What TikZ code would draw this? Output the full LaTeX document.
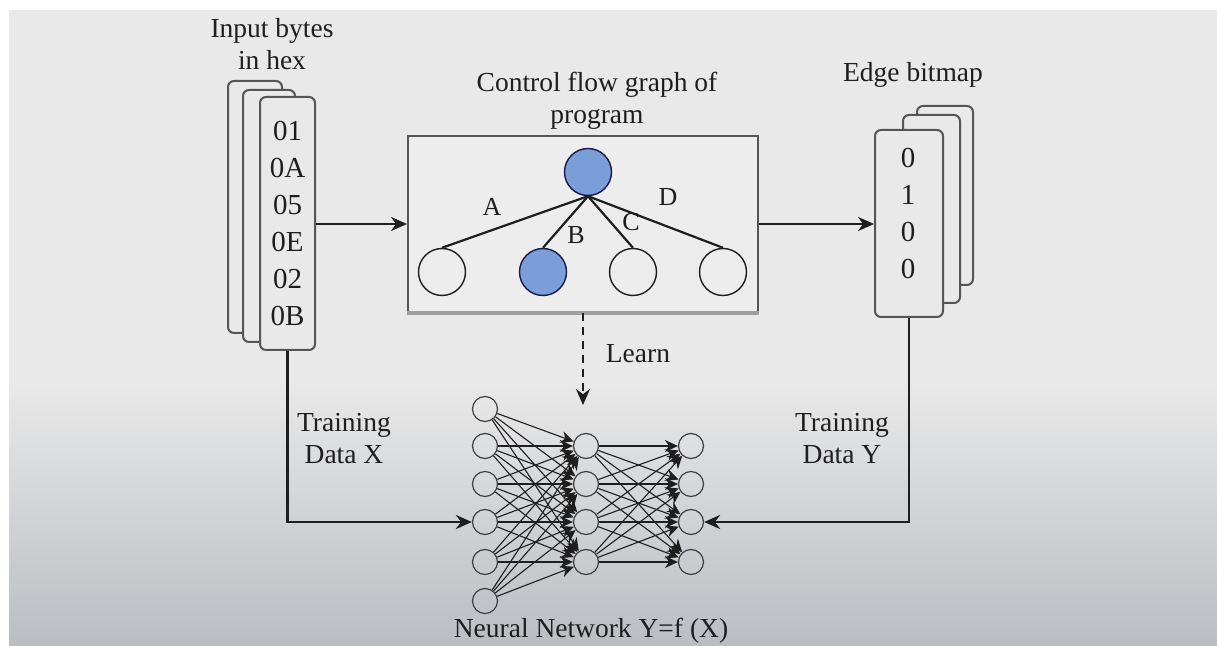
\documentclass[tikz,border=0pt]{standalone}
\usepackage{fontspec}
\setmainfont{Liberation Serif}
\usetikzlibrary{arrows.meta}
\definecolor{bgtop}{RGB}{233,233,233}
\definecolor{bgbot}{RGB}{186,189,194}
\definecolor{cardline}{RGB}{85,85,85}
\definecolor{boxfill}{RGB}{237,237,237}
\definecolor{nodeblue}{RGB}{122,158,216}
\definecolor{ink}{RGB}{30,30,30}
\begin{document}
\begin{tikzpicture}[x=0.5pt,y=-0.5pt,
  lbl/.style={font=\fontsize{13.75pt}{16pt}\selectfont, text=ink, align=center, inner sep=0pt},
  digits/.style={font=\fontsize{14.5pt}{18.5pt}\selectfont, text=ink, align=center},
  card/.style={draw=cardline, line width=1pt, rounded corners=3pt, fill=bgtop, inner sep=0pt},
  cfgbox/.style={draw=cardline, line width=1pt, fill=boxfill, minimum width=175pt, minimum height=88pt, inner sep=0pt},
  gnode/.style={circle, draw=ink, line width=0.7pt, fill=boxfill, minimum size=23.5pt, inner sep=0pt},
  bnode/.style={gnode, fill=nodeblue, draw=ink!80!blue},
  cfgedge/.style={draw=ink, line width=1.1pt},
  nn/.style={circle, draw=ink!85, line width=0.6pt, minimum size=12.5pt, inner sep=0pt},
  nnarrow/.style={draw=ink, line width=0.55pt, -{Stealth[length=6.5pt,width=6pt]}},
  mainarrow/.style={draw=ink, line width=1.3pt, -{Stealth[length=8pt,width=7pt]}},
  learnarrow/.style={draw=ink, line width=1pt, dash pattern=on 4pt off 3pt, -{Stealth[length=8pt,width=7pt]}}
]
\useasboundingbox (0,0) rectangle (1217,646);
% background
\fill[white] (0,0) rectangle (1217,646);
\fill[bgtop] (9,10) rectangle (1217,381);
\shade[top color=bgtop, bottom color=bgbot] (9,380) rectangle (1217,646);

% input bytes stack
\node[lbl] (tin) at (272,44) {Input bytes\\in hex};
\node[card, minimum width=27pt, minimum height=126pt] (inb) at (255,207) {};
\node[card, minimum width=26pt, minimum height=126pt] (inm) at (269,216) {};
\node[card, digits, minimum width=27.5pt, minimum height=126.5pt] (inf) at (287.5,223.5) {01\\0A\\05\\0E\\02\\0B};

% control flow graph
\node[lbl] (tcfg) at (597,101) {Control flow graph of\\program};
\node[cfgbox] (cfg) at (583,224) {};
\draw[gray!75, line width=2pt] (cfg.south west) -- (cfg.south east);
\node[bnode] (top) at (588,172) {};
\node[gnode] (ca) at (442,272) {};
\node[bnode] (cb) at (543,272) {};
\node[gnode] (cc) at (633,272) {};
\node[gnode] (cd) at (723,272) {};
\draw[cfgedge] (top.south) -- (ca.north);
\draw[cfgedge] (top.south) -- (cb.north);
\draw[cfgedge] (top.south) -- (cc.north);
\draw[cfgedge] (top.south) -- (cd.north);
\node[lbl, font=\fontsize{13pt}{15pt}\selectfont] (la) at (492,207) {A};
\node[lbl, font=\fontsize{13pt}{15pt}\selectfont] (lb) at (576,235) {B};
\node[lbl, font=\fontsize{13pt}{15pt}\selectfont] (lc) at (631,222) {C};
\node[lbl, font=\fontsize{13pt}{15pt}\selectfont] (ld) at (668,197) {D};

% edge bitmap stack
\node[lbl] (tedge) at (913,75) {Edge bitmap};
\node[card, minimum width=28pt, minimum height=89.5pt] (ebb) at (945,195.5) {};
\node[card, minimum width=28.5pt, minimum height=94pt] (ebm) at (931.5,209) {};
\node[card, minimum width=34pt, minimum height=93.5pt] (ebf) at (909,223.5) {};
\node[digits, inner sep=0pt] (ebt) at (908,214) {0\\1\\0\\0};

% top arrows
\draw[mainarrow] (inf.east |- cfg.west) -- (cfg.west);
\draw[mainarrow] (cfg.east) -- (ebf.west |- cfg.east);

% neural network
\foreach \k/\y in {1/409,2/446,3/484,4/522,5/562,6/601}
  \node[nn] (i\k) at (485,\y) {};
\foreach \k/\y in {1/446,2/484,3/522,4/562}{
  \node[nn] (h\k) at (586,\y) {};
  \node[nn] (o\k) at (691,\y) {};
}
\foreach \a in {1,...,6}
  \foreach \b in {1,...,4}
    \draw[nnarrow] (i\a) -- (h\b);
\foreach \a in {1,...,4}
  \foreach \b in {1,...,4}
    \draw[nnarrow] (h\a) -- (o\b);
\node[lbl] (tnn) at (591,631) {Neural Network Y=f (X)};

% learn
\coordinate (lt) at (583,405);
\draw[learnarrow] (cfg.south) -- (lt);
\node[lbl] (tlearn) at (638,354) {Learn};

% training data connectors
\draw[mainarrow] (inf.south) |- (i4.west);
\draw[mainarrow] (ebf.south) |- (o3.east);
\node[lbl] (tx) at (344,439) {Training\\Data X};
\node[lbl] (ty) at (842,439) {Training\\Data Y};
\end{tikzpicture}
\end{document}
